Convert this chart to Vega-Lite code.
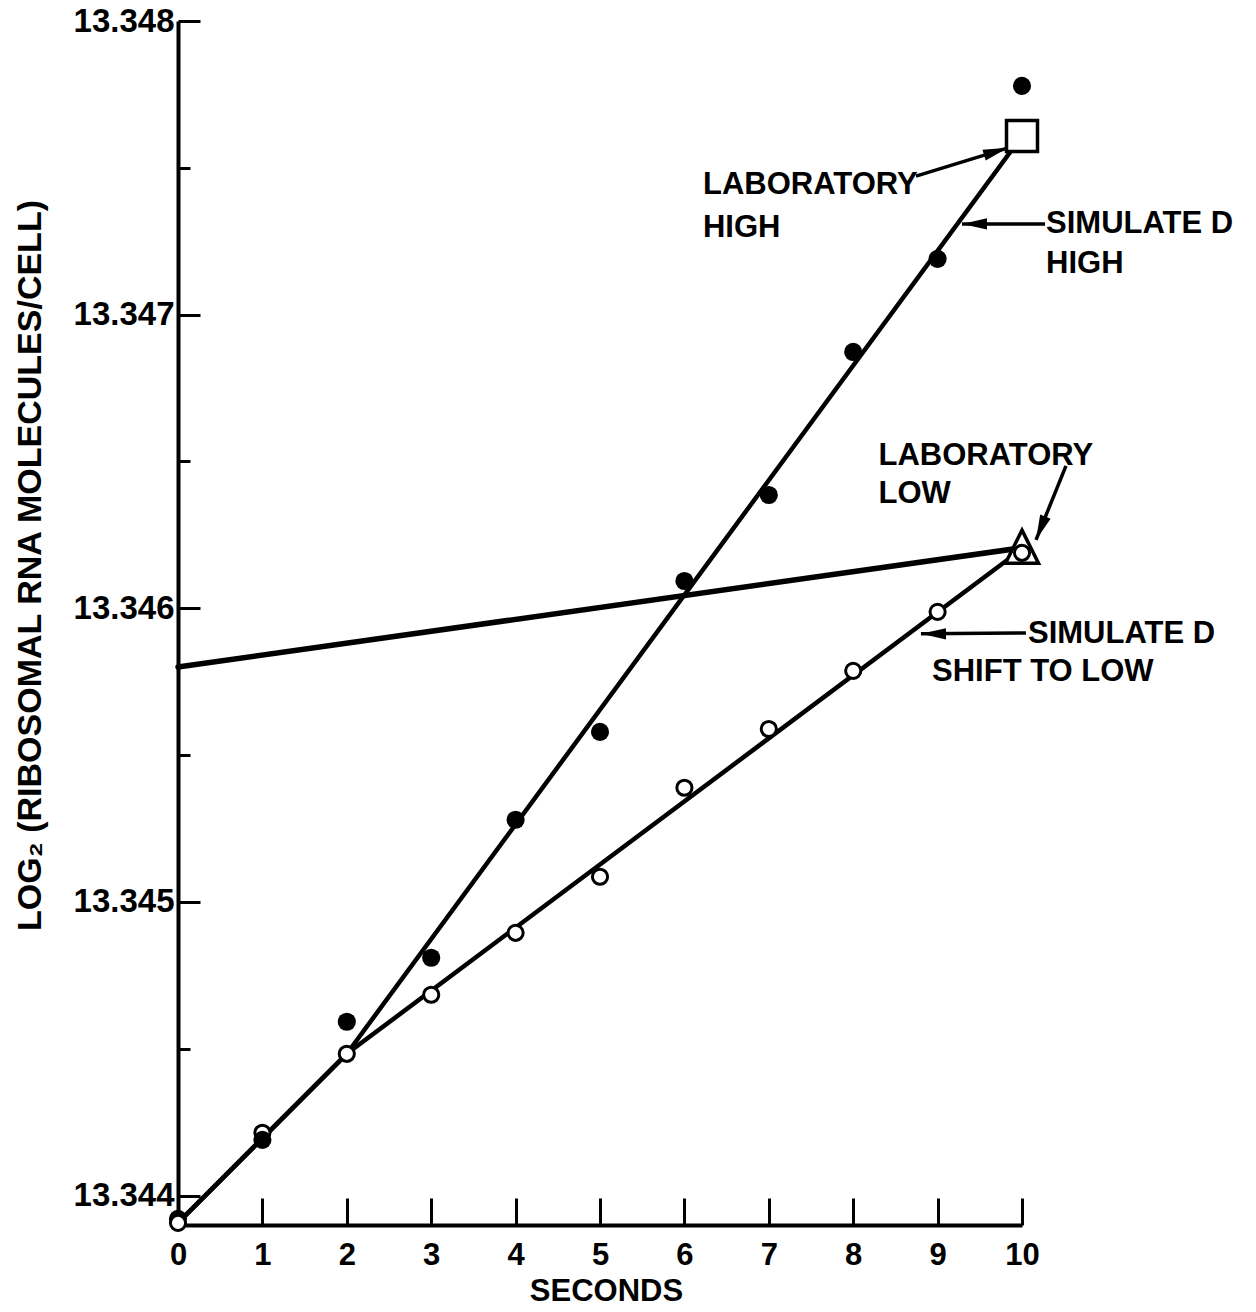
{
  "$schema": "https://vega.github.io/schema/vega-lite/v6.json",
  "width": 844,
  "height": 1204,
  "autosize": {"type": "none"},
  "padding": {"left": 178, "top": 21, "right": 234, "bottom": 87},
  "background": "white",
  "config": {"view": {"stroke": null}, "font": "Liberation Sans"},
  "datasets": {
    "lines": [
      {"series": "high", "t": 0, "v": 13.343907},
      {"series": "high", "t": 2, "v": 13.344483},
      {"series": "high", "t": 10, "v": 13.347608},
      {"series": "low", "t": 0, "v": 13.343907},
      {"series": "low", "t": 2, "v": 13.344483},
      {"series": "low", "t": 10, "v": 13.346202},
      {"series": "lab", "t": 0, "v": 13.3458},
      {"series": "lab", "t": 10, "v": 13.346206}
    ],
    "filled": [
      {"t": 0, "v": 13.343921},
      {"t": 1, "v": 13.34419},
      {"t": 2, "v": 13.344592},
      {"t": 3, "v": 13.34481},
      {"t": 4, "v": 13.34528},
      {"t": 5, "v": 13.345579},
      {"t": 6, "v": 13.346093},
      {"t": 7, "v": 13.346386},
      {"t": 8, "v": 13.346873},
      {"t": 9, "v": 13.34719},
      {"t": 10, "v": 13.347779}
    ],
    "open": [
      {"t": 0, "v": 13.343907},
      {"t": 1, "v": 13.344214},
      {"t": 2, "v": 13.344483},
      {"t": 3, "v": 13.344684},
      {"t": 4, "v": 13.344895},
      {"t": 5, "v": 13.345086},
      {"t": 6, "v": 13.345389},
      {"t": 7, "v": 13.345589},
      {"t": 8, "v": 13.345787},
      {"t": 9, "v": 13.345988},
      {"t": 10, "v": 13.346189}
    ],
    "labhigh": [{"t": 10, "v": 13.347608}],
    "lablow": [{"t": 10, "v": 13.34621}],
    "arrows": [
      {"arrow": "labhigh", "t": 9.834, "v": 13.347568, "t2": 8.744, "v2": 13.347472},
      {"arrow": "simhigh", "t": 9.289, "v": 13.347309, "t2": 10.273, "v2": 13.347309},
      {"arrow": "lablow", "t": 10.166, "v": 13.346233, "t2": 10.521, "v2": 13.346485},
      {"arrow": "simlow", "t": 8.803, "v": 13.345913, "t2": 10.047, "v2": 13.345916}
    ],
    "notes": [
      {"t": 6.22, "v": 13.347442, "label": "LABORATORY"},
      {"t": 6.22, "v": 13.347295, "label": "HIGH"},
      {"t": 10.285, "v": 13.347309, "label": "SIMULATE D"},
      {"t": 10.285, "v": 13.347173, "label": "HIGH"},
      {"t": 8.3, "v": 13.346519, "label": "LABORATORY"},
      {"t": 8.3, "v": 13.34639, "label": "LOW"},
      {"t": 10.071, "v": 13.345913, "label": "SIMULATE D"},
      {"t": 8.934, "v": 13.345783, "label": "SHIFT TO LOW"}
    ]
  },
  "encoding": {
    "x": {
      "field": "t",
      "type": "quantitative",
      "scale": {"domain": [0, 10], "nice": false, "zero": false},
      "axis": {
        "values": [0, 1, 2, 3, 4, 5, 6, 7, 8, 9, 10],
        "title": "SECONDS",
        "grid": false,
        "domainColor": "black",
        "domainWidth": 4,
        "tickColor": "black",
        "tickWidth": 3,
        "tickSize": -27,
        "labelFont": "Liberation Sans",
        "labelFontSize": 31,
        "labelFontWeight": "bold",
        "labelColor": "black",
        "labelPadding": 42,
        "labelFlush": false,
        "labelOverlap": false,
        "labelBound": false,
        "titleFont": "Liberation Sans",
        "titleFontSize": 31,
        "titleFontWeight": "bold",
        "titleColor": "black",
        "titlePadding": 6,
        "titleX": 428
      }
    },
    "y": {
      "field": "v",
      "type": "quantitative",
      "scale": {"domain": [13.3439, 13.348], "nice": false, "zero": false},
      "axis": {
        "values": [13.344, 13.3445, 13.345, 13.3455, 13.346, 13.3465, 13.347, 13.3475, 13.348],
        "labelExpr": "round(datum.value * 10000) % 10 == 0 ? format(datum.value, '.3f') : ''",
        "title": "LOG₂ (RIBOSOMAL RNA MOLECULES/CELL)",
        "grid": false,
        "domainColor": "black",
        "domainWidth": 4,
        "tickColor": "black",
        "tickWidth": 3,
        "tickSize": {"condition": {"test": "round(datum.value * 10000) % 10 == 0", "value": -22}, "value": -12},
        "labelFont": "Liberation Sans",
        "labelFontSize": 33,
        "labelFontWeight": "bold",
        "labelColor": "black",
        "labelPadding": 26,
        "labelFlush": false,
        "labelOverlap": false,
        "labelBound": false,
        "titleFont": "Liberation Sans",
        "titleFontSize": 34,
        "titleFontWeight": "bold",
        "titleColor": "black",
        "titleAngle": -90,
        "titleX": -148,
        "titleY": 544,
        "titleAlign": "center",
        "titleBaseline": "middle"
      }
    }
  },
  "layer": [
    {
      "data": {"name": "lines"},
      "transform": [{"filter": "datum.series != 'lab'"}],
      "mark": {"type": "line", "color": "black", "strokeWidth": 4.5, "strokeCap": "round"},
      "encoding": {"detail": {"field": "series", "type": "nominal"}}
    },
    {
      "data": {"name": "lines"},
      "transform": [{"filter": "datum.series == 'lab'"}],
      "mark": {"type": "line", "color": "black", "strokeWidth": 5.5, "strokeCap": "round"},
      "encoding": {"detail": {"field": "series", "type": "nominal"}}
    },
    {
      "data": {"name": "arrows"},
      "mark": {"type": "rule", "color": "black", "strokeWidth": 3.5},
      "encoding": {
        "x2": {"field": "t2"},
        "y2": {"field": "v2"}
      }
    },
    {
      "data": {"name": "arrows"},
      "transform": [{"filter": "datum.arrow == 'labhigh'"}],
      "mark": {"type": "point", "shape": "M0,0L-2,-0.45L-2,0.45Z", "filled": true, "color": "black", "opacity": 1, "size": 625, "angle": 343}
    },
    {
      "data": {"name": "arrows"},
      "transform": [{"filter": "datum.arrow == 'simhigh' || datum.arrow == 'simlow'"}],
      "mark": {"type": "point", "shape": "M0,0L-2,-0.45L-2,0.45Z", "filled": true, "color": "black", "opacity": 1, "size": 625, "angle": 180}
    },
    {
      "data": {"name": "arrows"},
      "transform": [{"filter": "datum.arrow == 'lablow'"}],
      "mark": {"type": "point", "shape": "M0,0L-2,-0.45L-2,0.45Z", "filled": true, "color": "black", "opacity": 1, "size": 625, "angle": 112}
    },
    {
      "data": {"name": "labhigh"},
      "mark": {"type": "point", "shape": "square", "filled": true, "fill": "white", "stroke": "black", "strokeWidth": 3.5, "opacity": 1, "size": 961}
    },
    {
      "data": {"name": "lablow"},
      "mark": {"type": "point", "shape": "M0,-1L1,1L-1,1Z", "filled": true, "fill": "white", "stroke": "black", "strokeWidth": 3.5, "opacity": 1, "size": 1089}
    },
    {
      "data": {"name": "filled"},
      "transform": [{"filter": "datum.t == 0"}],
      "mark": {"type": "point", "shape": "circle", "filled": true, "color": "black", "opacity": 1, "size": 330}
    },
    {
      "data": {"name": "open"},
      "mark": {"type": "point", "shape": "circle", "filled": true, "fill": "white", "stroke": "black", "strokeWidth": 3, "opacity": 1, "size": 230}
    },
    {
      "data": {"name": "filled"},
      "transform": [{"filter": "datum.t != 0"}],
      "mark": {"type": "point", "shape": "circle", "filled": true, "color": "black", "opacity": 1, "size": 330}
    },
    {
      "data": {"name": "notes"},
      "mark": {"type": "text", "align": "left", "baseline": "middle", "font": "Liberation Sans", "fontSize": 31, "fontWeight": "bold", "color": "black"},
      "encoding": {"text": {"field": "label", "type": "nominal"}}
    }
  ]
}
